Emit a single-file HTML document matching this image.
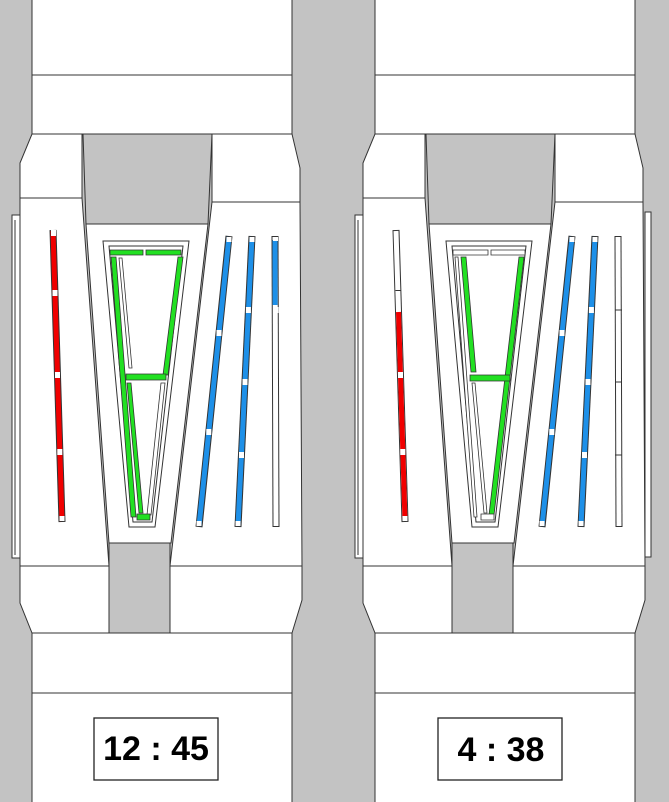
<!DOCTYPE html>
<html><head><meta charset="utf-8"><style>
html,body{margin:0;padding:0;background:#c3c3c3;}
svg{display:block;}
text{font-family:"Liberation Sans",Arial,sans-serif;font-weight:bold;}
</style></head><body>
<svg width="669" height="802" viewBox="0 0 669 802" xmlns="http://www.w3.org/2000/svg">
<rect width="669" height="802" fill="#c3c3c3"/>
<defs>
<g id="watch" stroke="#333" stroke-width="1" fill="#fff">
  <rect x="32" y="-2" width="260" height="77"/>
  <rect x="32" y="75" width="260" height="59"/>
  <rect x="32" y="633" width="260" height="60"/>
  <rect x="32" y="693" width="260" height="112"/>
  <polygon points="83,134 212,134 208,224 86,224" fill="#c3c3c3"/>
  <rect x="109" y="543" width="61" height="90" fill="#c3c3c3"/>
  <polygon points="32,134 82,134 82,198 20,198 20,163"/>
  <polygon points="212,134 292,134 300,168 300,202 212,202"/>
  <polygon points="20,198 82,198 109,566 20,566"/>
  <polygon points="212,202 300,202 302,566 170,566"/>
  <polygon points="86,224 208,224 171,543 109,543"/>
  <polygon points="20,566 109,566 109,633 32,633 20,603"/>
  <polygon points="170,566 302,566 302,600 292,633 170,633"/>
  <rect x="12" y="215" width="8" height="343"/>
  <line x1="15" y1="220" x2="15" y2="555"/>
  <polygon points="103,241 189,241 155,527 129,527"/>
  <polygon points="109,246 183,246 152,522 133,522"/>
</g>
</defs>

<use href="#watch"/>
<use href="#watch" transform="translate(343,0)"/>
<rect x="645" y="212" width="6" height="345" fill="#fff" stroke="#333"/>

<g stroke-linecap="butt">
  <line x1="53" y1="230" x2="62" y2="522" stroke="#333" stroke-width="7"/>
  <line x1="53" y1="231" x2="62" y2="521" stroke="#f00000" stroke-width="5"/>
  <line x1="229" y1="236" x2="199" y2="527" stroke="#333" stroke-width="7"/>
  <line x1="229" y1="237" x2="199" y2="526" stroke="#1e90e8" stroke-width="5"/>
  <line x1="252" y1="236" x2="238" y2="527" stroke="#333" stroke-width="7"/>
  <line x1="252" y1="237" x2="238" y2="526" stroke="#1e90e8" stroke-width="5"/>
  <line x1="275" y1="236" x2="276" y2="527" stroke="#333" stroke-width="7"/>
  <line x1="275" y1="237" x2="276" y2="526" stroke="#fff" stroke-width="5"/>
  <line x1="275" y1="240" x2="275.1" y2="305" stroke="#1e90e8" stroke-width="5"/>
</g>
<g fill="#fff">
  <rect x="51" y="230" width="5" height="6"/><rect x="59.5" y="516" width="5" height="5"/>
  <rect x="52.5" y="290" width="5" height="6"/><rect x="55" y="372" width="5" height="6"/><rect x="57.3" y="449" width="5" height="6"/>
  <rect x="226.5" y="237" width="5" height="5"/><rect x="196.5" y="521" width="5" height="5"/>
  <rect x="216.5" y="330" width="5" height="6"/><rect x="206.3" y="429" width="5" height="6"/>
  <rect x="249.5" y="237" width="5" height="5"/><rect x="235.5" y="521" width="5" height="5"/>
  <rect x="245.9" y="307" width="5" height="6"/><rect x="242.5" y="379" width="5" height="6"/><rect x="239" y="452" width="5" height="6"/>
  <rect x="273" y="237" width="5" height="4"/><rect x="273.5" y="307" width="5" height="6"/>
</g>

<g transform="translate(343,0)">
  <line x1="53" y1="230" x2="62" y2="522" stroke="#333" stroke-width="7"/>
  <line x1="53" y1="231" x2="62" y2="521" stroke="#fff" stroke-width="5"/>
  <line x1="55.5" y1="312" x2="62" y2="520" stroke="#f00000" stroke-width="5"/>
  <rect x="52.5" y="290" width="5" height="1" fill="#333"/>
  <rect x="55" y="372" width="5" height="6" fill="#fff"/><rect x="57.3" y="449" width="5" height="6" fill="#fff"/>
  <rect x="59.5" y="516" width="5" height="5" fill="#fff"/>
  <line x1="229" y1="236" x2="199" y2="527" stroke="#333" stroke-width="7"/>
  <line x1="229" y1="237" x2="199" y2="526" stroke="#1e90e8" stroke-width="5"/>
  <line x1="252" y1="236" x2="238" y2="527" stroke="#333" stroke-width="7"/>
  <line x1="252" y1="237" x2="238" y2="526" stroke="#1e90e8" stroke-width="5"/>
  <line x1="275" y1="236" x2="276" y2="527" stroke="#333" stroke-width="7"/>
  <line x1="275" y1="237" x2="276" y2="526" stroke="#fff" stroke-width="5"/>
  <g fill="#fff">
    <rect x="226.5" y="237" width="5" height="5"/><rect x="196.5" y="521" width="5" height="5"/>
    <rect x="216.5" y="330" width="5" height="6"/><rect x="206.3" y="429" width="5" height="6"/>
    <rect x="249.5" y="237" width="5" height="5"/><rect x="235.5" y="521" width="5" height="5"/>
    <rect x="245.9" y="307" width="5" height="6"/><rect x="242.5" y="379" width="5" height="6"/><rect x="239" y="452" width="5" height="6"/>
  </g>
  <g stroke="#333" stroke-width="1">
    <line x1="272" y1="310" x2="279" y2="310"/><line x1="272" y1="382" x2="279" y2="382"/><line x1="272" y1="455" x2="279" y2="455"/>
  </g>
</g>

<g stroke="#333" stroke-width="0.8">
  <polygon points="110,250 143,250 143,255 110,255" fill="#22e022"/>
  <polygon points="146,250 181,250 181,255 146,255" fill="#22e022"/>
  <polygon points="111,257 116,257 136,517 131,517" fill="#22e022"/>
  <polygon points="119,258 122,258 132,368 129,368" fill="#fff"/>
  <polygon points="178,257 183,257 168,375 163,375" fill="#22e022"/>
  <polygon points="126,374 166,374 166,380 126,380" fill="#22e022"/>
  <polygon points="127,383 131,383 143,513 139,513" fill="#22e022"/>
  <polygon points="161,383 165,383 151,515 147,515" fill="#fff"/>
  <polygon points="137,514 150,514 150,520 137,520" fill="#22e022"/>
</g>

<g stroke="#333" stroke-width="0.8">
  <polygon points="453,250 488,250 488,255 453,255" fill="#fff"/>
  <polygon points="491,250 525,250 525,255 491,255" fill="#fff"/>
  <polygon points="455,257 458,257 477,517 474,517" fill="#fff"/>
  <polygon points="461,257 466,257 476,372 471,372" fill="#22e022"/>
  <polygon points="519,257 524,257 494,515 489,515" fill="#22e022"/>
  <polygon points="470,375 510,375 510,381 470,381" fill="#22e022"/>
  <polygon points="472,383 475,383 487,513 484,513" fill="#fff"/>
  <polygon points="481,514 494,514 494,520 481,520" fill="#fff"/>
</g>

<rect x="94" y="718" width="124" height="62" fill="#fff" stroke="#222" stroke-width="1.3"/>
<text x="156" y="760" font-size="34" text-anchor="middle" fill="#000">12 : 45</text>
<rect x="438" y="718" width="124" height="62" fill="#fff" stroke="#222" stroke-width="1.3"/>
<text x="501" y="761" font-size="34" text-anchor="middle" fill="#000">4 : 38</text>
</svg>
</body></html>
